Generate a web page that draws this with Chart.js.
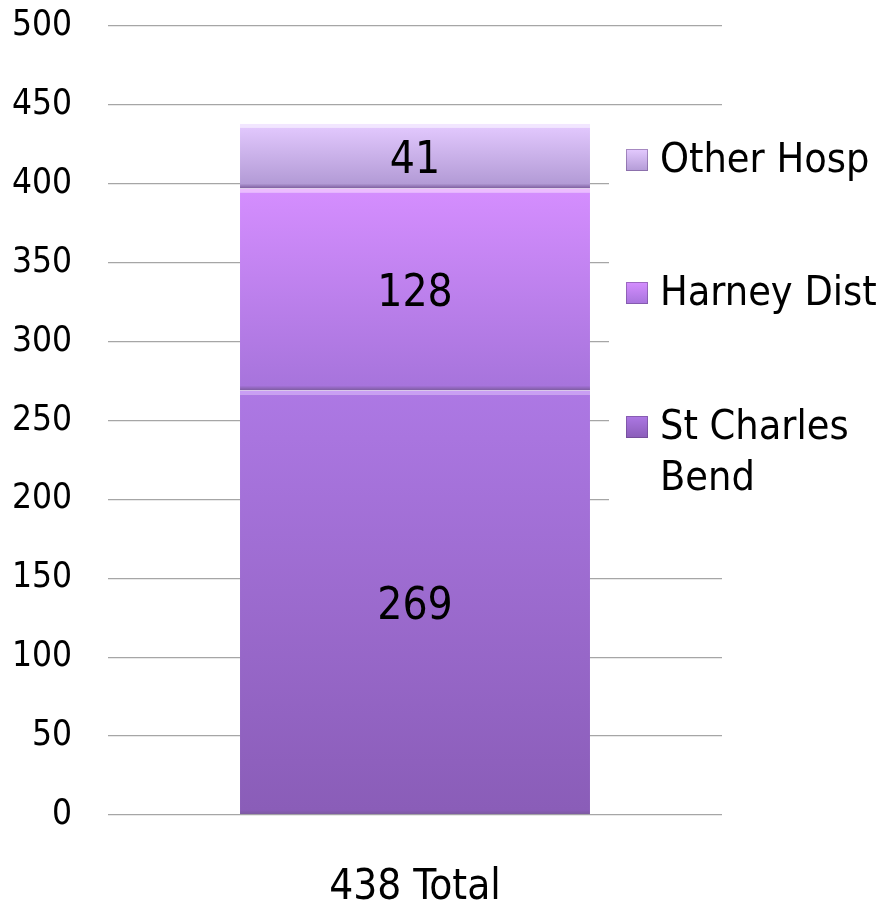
<!DOCTYPE html>
<html>
<head>
<meta charset="utf-8">
<script src="https://cdn.jsdelivr.net/npm/chart.js@4"></script>
<style>
  html, body { margin: 0; padding: 0; background: #fff; }
  #wrap { width: 884px; height: 900px; }
</style>
</head>
<body>
<div id="wrap"><canvas id="chart" width="884" height="900"></canvas></div>
<script>
const categories = ["438 Total"];
const seriesNames = ["St Charles Bend", "Harney Dist", "Other Hosp"];
const stCharles = [269];
const harney = [128];
const otherHosp = [41];
const yTicks = [0, 50, 100, 150, 200, 250, 300, 350, 400, 450, 500];

const FONT = "'DejaVu Sans Condensed', 'DejaVu Sans', sans-serif";

// top / bottom colours of each segment gradient
const shades = [
  ["#ad78e4", "#8a5db8"],
  ["#d58eff", "#a774dc"],
  ["#e4caff", "#b39bd6"]
];
const edgeColors = ["#c99ef4", "#ecbcff", "#f2e6ff"];

function gradientFor(i) {
  return function (ctx) {
    const chart = ctx.chart;
    if (!chart.chartArea) return shades[i][1];
    const y = chart.scales.y;
    let lo = 0;
    for (let k = 0; k < i; k++) lo += chart.data.datasets[k].data[0];
    const hi = lo + chart.data.datasets[i].data[0];
    const yTop = y.getPixelForValue(hi), yBot = y.getPixelForValue(lo);
    const g = chart.ctx.createLinearGradient(0, yTop, 0, yBot);
    const f = Math.min(0.2, 5 / (yBot - yTop));
    g.addColorStop(0, shades[i][0]);
    g.addColorStop(1 - f, shades[i][1]);
    g.addColorStop(1, "#7a5a9c");
    return g;
  };
}

// value labels and the legend on the right
const extras = {
  id: "extras",
  afterDatasetsDraw(chart) {
    const ctx = chart.ctx;
    ctx.save();
    ctx.fillStyle = "#000";
    ctx.font = "44px " + FONT;
    ctx.textAlign = "center";
    ctx.textBaseline = "middle";
    chart.data.datasets.forEach((ds, i) => {
      const bar = chart.getDatasetMeta(i).data[0];
      ctx.fillText(String(ds.data[0]), bar.x, (bar.y + bar.base) / 2 + 5);
    });

    // white box behind legend hides the gridlines there
    ctx.fillStyle = "#fff";
    ctx.fillRect(609, 140, 275, 368);

    const rows = [
      { name: ["Other Hosp"], y: 160, c: 2 },
      { name: ["Harney Dist"], y: 293, c: 1 },
      { name: ["St Charles", "Bend"], y: 427, c: 0 }
    ];
    ctx.font = "41px " + FONT;
    ctx.textAlign = "left";
    rows.forEach(r => {
      const g = ctx.createLinearGradient(0, r.y - 11, 0, r.y + 11);
      g.addColorStop(0, shades[r.c][0]);
      g.addColorStop(1, shades[r.c][1]);
      ctx.fillStyle = g;
      ctx.fillRect(626, r.y - 11, 22, 22);
      ctx.strokeStyle = "rgba(90,60,120,0.45)";
      ctx.lineWidth = 1;
      ctx.strokeRect(626.5, r.y - 10.5, 21, 21);
      ctx.fillStyle = "#000";
      r.name.forEach((t, j) => ctx.fillText(t, 660, r.y + 1 + j * 51));
    });
    ctx.restore();
  }
};

new Chart(document.getElementById("chart"), {
  type: "bar",
  data: {
    labels: categories,
    datasets: [
      { label: seriesNames[0], data: stCharles },
      { label: seriesNames[1], data: harney },
      { label: seriesNames[2], data: otherHosp }
    ].map((d, i) => Object.assign(d, {
      backgroundColor: gradientFor(i),
      borderColor: edgeColors[i],
      borderWidth: { top: 4, left: 0, right: 0, bottom: 0 },
      borderSkipped: false,
      barPercentage: 0.57,
      categoryPercentage: 1
    }))
  },
  plugins: [extras],
  options: {
    responsive: false,
    animation: false,
    layout: { padding: { top: 26, right: 162, left: 0, bottom: 0 } },
    plugins: {
      legend: { display: false },
      tooltip: { enabled: false }
    },
    scales: {
      x: {
        stacked: true,
        grid: { display: false },
        border: { display: false },
        ticks: { color: "#000", font: { family: FONT, size: 42, lineHeight: 1 }, padding: 44 },
        afterFit(scale) { scale.height = 85; scale.paddingLeft = 0; scale.paddingRight = 0; }
      },
      y: {
        stacked: true,
        min: 0,
        max: 500,
        afterBuildTicks(scale) { scale.ticks = yTicks.map(v => ({ value: v })); },
        grid: { color: "#a6a6a6", lineWidth: 1.3, drawTicks: false },
        border: { display: false },
        ticks: { color: "#000", font: { family: FONT, size: 35 }, padding: 36 },
        afterFit(scale) { scale.width = 108; scale.paddingTop = 0; scale.paddingBottom = 0; }
      }
    }
  }
});
</script>
</body>
</html>
